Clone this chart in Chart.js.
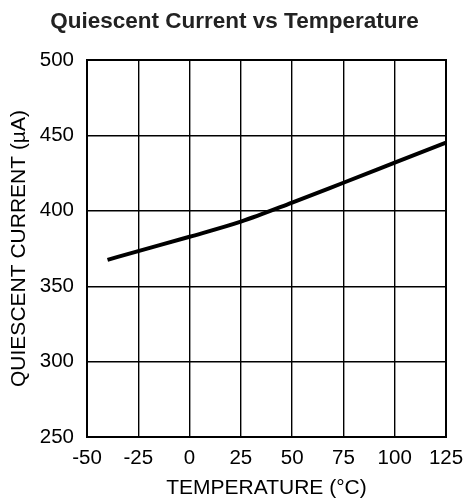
<!DOCTYPE html>
<html>
<head>
<meta charset="utf-8">
<script src="https://cdn.jsdelivr.net/npm/chart.js@4"></script>
<style>
  html, body { margin: 0; padding: 0; background: #fff; }
  canvas { display: block; }
</style>
</head>
<body>
<canvas id="chart" width="467" height="501"></canvas>
<script>
// values
var temperatures = [-40, -25, 0, 25, 50, 75, 100, 125];
var currentUA = [367.5, 373.3, 382.8, 392.8, 405.4, 418.6, 431.9, 445.2];
var xTicks = [-50, -25, 0, 25, 50, 75, 100, 125];
var yTicks = [250, 300, 350, 400, 450, 500];

var points = temperatures.map(function(t, i) { return { x: t, y: currentUA[i] }; });

Chart.defaults.font.family = "'Liberation Sans', Arial, sans-serif";
Chart.defaults.color = '#000';

var ctx = document.getElementById('chart').getContext('2d');
var myChart = new Chart(ctx, {
    type: 'scatter',
    data: {
        datasets: [{
            data: points,
            showLine: true,
            borderColor: '#000',
            borderWidth: 4,
            pointRadius: 0,
            cubicInterpolationMode: 'monotone',
            fill: false
        }]
    },
    options: {
        responsive: false,
        animation: false,
        layout: { padding: { left: 23, right: 21, top: 0, bottom: 0 } },
        plugins: {
            legend: { display: false },
            tooltip: { enabled: false },
            title: {
                display: true,
                text: 'Quiescent Current vs Temperature',
                color: '#222',
                font: { size: 22.5, weight: 'bold' },
                padding: { top: 8.5, bottom: 24.5 }
            }
        },
        scales: {
            x: {
                type: 'linear',
                min: -50,
                max: 125,
                afterBuildTicks: function(scale) {
                    scale.ticks = xTicks.map(function(v) { return { value: v }; });
                },
                afterFit: function(scale) {
                    scale.height = 64;
                    scale.paddingLeft = 0;
                    scale.paddingRight = 0;
                },
                grid: { color: '#000', lineWidth: 1.4, drawTicks: false },
                border: { color: '#000', width: 2 },
                ticks: { padding: 8.7, font: { size: 20.5 }, maxRotation: 0 },
                title: {
                    display: true,
                    text: 'TEMPERATURE (°C)',
                    font: { size: 21 },
                    padding: { top: 0, bottom: 0 }
                }
            },
            y: {
                min: 250,
                max: 500,
                afterBuildTicks: function(scale) {
                    scale.ticks = yTicks.map(function(v) { return { value: v }; });
                },
                afterFit: function(scale) { scale.width = 64; },
                grid: { color: '#000', lineWidth: 1.4, drawTicks: false },
                border: { color: '#000', width: 2 },
                ticks: { padding: 13, font: { size: 20.5 } },
                title: {
                    display: true,
                    text: 'QUIESCENT CURRENT (µA)',
                    font: { size: 21 },
                    padding: { top: -16.6, bottom: 0 }
                }
            }
        }
    },
    plugins: [{
        // close the box on the top and right sides
        id: 'frame',
        afterDraw: function(chart) {
            var a = chart.chartArea, c = chart.ctx;
            c.save();
            c.strokeStyle = '#000';
            c.lineWidth = 2;
            c.strokeRect(a.left, a.top, a.right - a.left, a.bottom - a.top);
            c.restore();
        }
    }]
});
</script>
</body>
</html>
